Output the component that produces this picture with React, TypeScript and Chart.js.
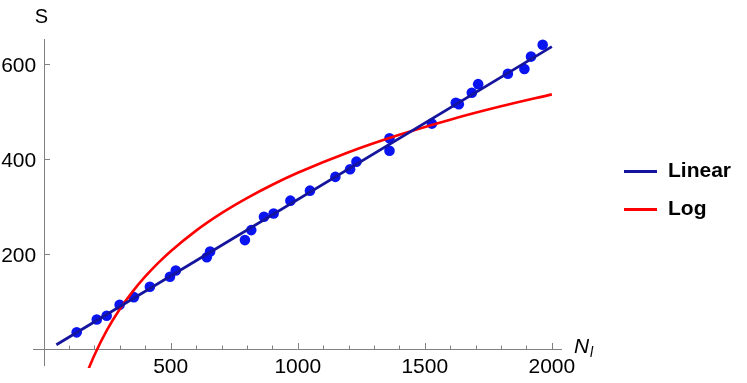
import React, { useEffect, useRef } from "react";
import { Chart, registerables } from "chart.js";

Chart.register(...registerables);

// Observed data points (N_l, S)
const pointN = [130, 209, 248, 299, 355, 418, 497, 520, 642, 655, 792, 817, 867, 905, 971, 1048, 1148, 1206, 1231, 1361, 1361, 1528, 1622, 1634, 1685, 1710, 1827, 1892, 1918, 1964];
const pointS = [36, 63, 71, 94, 110, 132, 153, 166, 194, 206, 230, 251, 279, 286, 313, 334, 363, 379, 395, 444, 418, 475, 519, 516, 540, 558, 580, 590, 616, 641];

// Linear fit line (read at its ends)
const linearN = [50, 2000];
const linearS = [10, 637];

// Log fit curve
const logN = [175, 200, 250, 300, 350, 400, 450, 500, 600, 700, 800, 900, 1000, 1200, 1400, 1600, 1800, 2000];
const logS = [-43, -11.5, 41.6, 85, 121.7, 153.5, 181.5, 206.6, 250, 286.7, 318.4, 346.5, 371.6, 414.9, 451.6, 483.4, 511.4, 536.5];

// Axis ticks
const xMajorTicks = [500, 1000, 1500, 2000];
const xMinorTicks = [100, 200, 300, 400, 600, 700, 800, 900, 1100, 1200, 1300, 1400, 1600, 1700, 1800, 1900];
const yMajorTicks = [200, 400, 600];

const seriesNames = ["Linear", "Log"];
const lineColors = ["#14149c", "#ff0000"];
const pointColor = "#0a14f0";
const axisColor = "#808080";
const FONT = "'Liberation Sans', Arial, Helvetica, sans-serif";

const toXY = (xs: number[], ys: number[]) => xs.map((x, i) => ({ x, y: ys[i] }));

const decorPlugin = {
  id: "decor",
  beforeDatasetsDraw(chart: any) {
    const { ctx, chartArea, scales } = chart;
    const xs = scales.x;
    const ys = scales.y;
    const x0 = xs.getPixelForValue(0);
    const y0 = ys.getPixelForValue(0);
    ctx.save();
    ctx.strokeStyle = axisColor;
    ctx.lineWidth = 1;
    ctx.beginPath();
    ctx.moveTo(chartArea.left, Math.round(y0) + 0.5);
    ctx.lineTo(chartArea.right, Math.round(y0) + 0.5);
    ctx.moveTo(Math.round(x0) + 0.5, chartArea.top);
    ctx.lineTo(Math.round(x0) + 0.5, ys.getPixelForValue(-35));
    for (const t of xMajorTicks) {
      const px = Math.round(xs.getPixelForValue(t)) + 0.5;
      ctx.moveTo(px, Math.round(y0));
      ctx.lineTo(px, Math.round(y0) - 6);
    }
    for (const t of xMinorTicks) {
      const px = Math.round(xs.getPixelForValue(t)) + 0.5;
      ctx.moveTo(px, Math.round(y0));
      ctx.lineTo(px, Math.round(y0) - 3.5);
    }
    for (const t of yMajorTicks) {
      const py = Math.round(ys.getPixelForValue(t)) + 0.5;
      ctx.moveTo(Math.round(x0), py);
      ctx.lineTo(Math.round(x0) + 6, py);
    }
    ctx.stroke();

    // tick labels
    ctx.fillStyle = "#000";
    ctx.font = `21px ${FONT}`;
    ctx.textBaseline = "alphabetic";
    ctx.textAlign = "center";
    for (const t of xMajorTicks) {
      ctx.fillText(String(t), xs.getPixelForValue(t), y0 + 24);
    }
    ctx.textAlign = "right";
    for (const t of yMajorTicks) {
      ctx.fillText(String(t), x0 - 7.5, ys.getPixelForValue(t) + 7.5);
    }
    ctx.restore();
  },
  afterDraw(chart: any) {
    const { ctx } = chart;
    ctx.save();
    ctx.fillStyle = "#000";
    // axis titles
    ctx.font = `20px ${FONT}`;
    ctx.textAlign = "center";
    ctx.textBaseline = "alphabetic";
    ctx.fillText("S", 41.5, 23);
    ctx.textAlign = "left";
    ctx.font = `italic 21px ${FONT}`;
    ctx.fillText("N", 574, 353);
    ctx.font = `italic 14px ${FONT}`;
    ctx.fillText("l", 590, 357);
    // legend
    const rows = [171.5, 209.5];
    seriesNames.forEach((name, i) => {
      ctx.strokeStyle = lineColors[i];
      ctx.lineWidth = 3;
      ctx.beginPath();
      ctx.moveTo(624, rows[i]);
      ctx.lineTo(657, rows[i]);
      ctx.stroke();
      ctx.fillStyle = "#000";
      ctx.font = `bold 21px ${FONT}`;
      ctx.textAlign = "left";
      ctx.fillText(name, 668, rows[i] + 5);
    });
    ctx.restore();
  },
};

const zeroFit = (s: any) => {
  s.width = s.isHorizontal() ? s.width : 0;
  s.height = s.isHorizontal() ? 0 : s.height;
  s.paddingLeft = 0;
  s.paddingRight = 0;
  s.paddingTop = 0;
  s.paddingBottom = 0;
};

export default function App() {
  const ref = useRef<HTMLCanvasElement | null>(null);
  useEffect(() => {
    document.body.style.margin = "0";
    const canvas = ref.current;
    if (!canvas) return;
    const chart = new Chart(canvas, {
      type: "scatter",
      data: {
        datasets: [
          {
            label: seriesNames[0],
            data: toXY(linearN, linearS),
            showLine: true,
            borderColor: lineColors[0],
            borderWidth: 2.8,
            pointRadius: 0,
            pointHoverRadius: 0,
          },
          {
            label: seriesNames[1],
            data: toXY(logN, logS),
            showLine: true,
            borderColor: lineColors[1],
            borderWidth: 2.6,
            pointRadius: 0,
            pointHoverRadius: 0,
            cubicInterpolationMode: "monotone",
          },
          {
            label: "Data",
            data: toXY(pointN, pointS),
            showLine: false,
            backgroundColor: pointColor,
            borderColor: pointColor,
            borderWidth: 0,
            pointRadius: 5.3,
          },
        ],
      },
      options: {
        responsive: false,
        animation: false,
        events: [],
        layout: { padding: { left: 33, right: 185, top: 39, bottom: 15 } },
        plugins: { legend: { display: false }, tooltip: { enabled: false } },
        scales: {
          x: {
            type: "linear",
            min: -42,
            max: 2040,
            position: { y: 0 },
            grid: { display: false, drawTicks: false },
            border: { display: false },
            afterFit: zeroFit,
            ticks: { display: false },
          },
          y: {
            type: "linear",
            min: -39,
            max: 653,
            position: { x: 0 },
            grid: { display: false, drawTicks: false },
            border: { display: false },
            afterFit: zeroFit,
            ticks: { display: false },
          },
        },
      },
      plugins: [decorPlugin],
    });
    return () => chart.destroy();
  }, []);
  return (
    <canvas ref={ref} width={747} height={383} style={{ display: "block", width: 747, height: 383 }} />
  );
}
